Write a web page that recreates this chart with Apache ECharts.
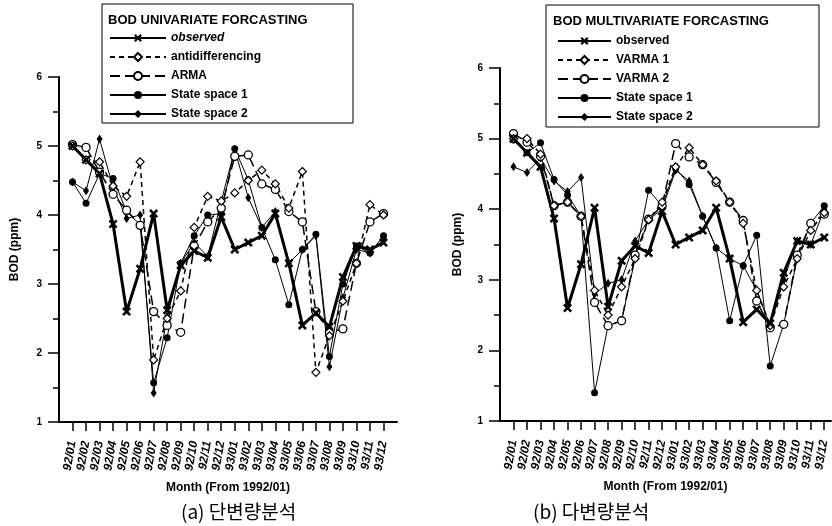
<!DOCTYPE html>
<html><head><meta charset="utf-8">
<script src="https://cdn.jsdelivr.net/npm/echarts@6/dist/echarts.min.js"></script>
<style>html,body{margin:0;padding:0;background:#fff}#c{width:832px;height:526px}</style>
</head><body><div id="c"></div>
<script>
const months = ['92/01','92/02','92/03','92/04','92/05','92/06','92/07','92/08','92/09','92/10','92/11','92/12',
                '93/01','93/02','93/03','93/04','93/05','93/06','93/07','93/08','93/09','93/10','93/11','93/12'];
const yTicks = [1, 2, 3, 4, 5, 6];

// observed BOD (same in both panels)
const observed = [5.0, 4.8, 4.6, 3.87, 2.6, 3.22, 4.02, 2.62, 3.27, 3.48, 3.38, 3.97, 3.5, 3.6, 3.7, 4.02, 3.3, 2.4, 2.58, 2.38, 3.1, 3.55, 3.5, 3.6];

// (a) univariate forecasts
const antidifferencing = [5.0, 4.8, 4.77, 4.42, 4.27, 4.77, 1.9, 2.5, 2.9, 3.82, 4.27, 4.2, 4.32, 4.5, 4.65, 4.45, 4.1, 4.63, 1.72, 2.25, 2.75, 3.3, 4.15, 4.0];
const arma = [5.02, 4.98, 4.62, 4.3, 4.07, 3.85, 2.6, 2.4, 2.3, 3.55, 3.9, 4.1, 4.85, 4.87, 4.45, 4.37, 4.05, 3.9, 2.6, 2.3, 2.35, 3.3, 3.9, 4.02];
const uniSS1 = [4.48, 4.17, 4.6, 4.53, 4.05, 3.86, 1.57, 2.22, 3.3, 3.7, 4.0, 4.02, 4.96, 4.51, 3.82, 3.35, 2.7, 3.5, 3.72, 1.95, 3.0, 3.55, 3.45, 3.7];
const uniSS2 = [4.48, 4.35, 5.1, 4.4, 3.95, 4.0, 1.42, 2.53, 3.3, 3.6, 3.4, 4.2, 4.95, 4.25, 3.82, 4.05, 3.3, 3.5, 3.7, 1.8, 2.8, 3.5, 3.45, 3.65];

// (b) multivariate forecasts
const varma1 = [5.0, 5.0, 4.78, 4.05, 4.1, 3.9, 2.85, 2.5, 2.9, 3.3, 3.85, 4.1, 4.6, 4.87, 4.63, 4.4, 4.1, 3.8, 2.85, 2.35, 2.9, 3.3, 3.7, 3.95];
const varma2 = [5.07, 4.95, 4.75, 4.05, 4.1, 3.9, 2.68, 2.35, 2.42, 3.35, 3.86, 4.05, 4.93, 4.74, 4.63, 4.38, 4.1, 3.84, 2.7, 2.32, 2.37, 3.35, 3.8, 3.93];
const multiSS1 = [4.98, 4.8, 4.94, 4.42, 4.2, 3.9, 1.4, 2.35, 2.42, 3.3, 4.27, 4.05, 4.58, 4.35, 3.9, 3.45, 2.42, 3.2, 3.63, 1.78, 2.37, 3.3, 3.8, 4.05];
const multiSS2 = [4.6, 4.52, 4.72, 4.4, 4.25, 4.45, 2.8, 2.95, 3.0, 3.55, 3.85, 4.0, 4.55, 4.4, 3.9, 3.45, 3.3, 3.2, 2.85, 2.35, 3.0, 3.55, 3.5, 4.0];

const FONT = '"Liberation Sans", Arial, sans-serif';
const idx = months.map((m, i) => i);
const pts = arr => arr.map((v, i) => [i, v]);

const X_SYM = 'path://M0,2 L2,0 L5,3 L8,0 L10,2 L7,5 L10,8 L8,10 L5,7 L2,10 L0,8 L3,5 Z';
const THIN_DIAMOND = 'path://M5,0 L7.5,5 L5,10 L2.5,5 Z';

function styles(kind) {
  switch (kind) {
    case 'obs': return {symbol: X_SYM, symbolSize: 9, lineStyle: {color: '#000', width: 3}, itemStyle: {color: '#000'}};
    case 'dash': return {symbol: 'diamond', symbolSize: 8, lineStyle: {color: '#000', width: 1.5, type: [5, 4]}, itemStyle: {color: '#fff', borderColor: '#000', borderWidth: 1.2}};
    case 'longdash': return {symbol: 'circle', symbolSize: 8, lineStyle: {color: '#000', width: 1.5, type: [10, 5]}, itemStyle: {color: '#fff', borderColor: '#000', borderWidth: 1.3}};
    case 'ss1': return {symbol: 'circle', symbolSize: 7, lineStyle: {color: '#000', width: 1}, itemStyle: {color: '#000'}};
    case 'ss2': return {symbol: THIN_DIAMOND, symbolSize: [6, 9], lineStyle: {color: '#000', width: 1}, itemStyle: {color: '#000'}};
  }
}
function mk(name, arr, kind, gi) {
  return Object.assign({type: 'line', name, data: pts(arr), xAxisIndex: gi, yAxisIndex: gi, showSymbol: true}, styles(kind));
}

function xAxis(gi, max) {
  return {
    type: 'value', gridIndex: gi, min: -1, max: max,
    splitLine: {show: false},
    axisLine: {show: true, onZero: false, lineStyle: {color: '#000', width: 2}},
    axisTick: {show: true, customValues: idx, length: 9, lineStyle: {color: '#000', width: 1.5}},
    axisLabel: {customValues: idx, formatter: v => months[v] || '', rotate: 80, margin: 19,
                fontFamily: FONT, fontWeight: 'bold', fontStyle: 'italic', fontSize: 12, color: '#000'},
    name: 'Month (From 1992/01)', nameLocation: 'middle', nameGap: 60,
    nameTextStyle: {fontFamily: FONT, fontWeight: 'bold', fontSize: 12, color: '#000'}
  };
}
function yAxis(gi, gap) {
  return {
    type: 'value', gridIndex: gi, min: yTicks[0], max: yTicks[yTicks.length - 1], interval: 1,
    splitLine: {show: false},
    axisLine: {show: true, onZero: false, lineStyle: {color: '#000', width: 2}},
    axisTick: {show: true, length: 11, lineStyle: {color: '#000', width: 1.5}},
    minorTick: {show: true, splitNumber: 2, length: 6, lineStyle: {color: '#000', width: 1.5}},
    axisLabel: {margin: 17, fontWeight: 'bold', fontSize: 10, color: '#000'},
    name: 'BOD (ppm)', nameLocation: 'middle', nameGap: gap,
    nameTextStyle: {fontWeight: 'bold', fontSize: 12, color: '#000'}
  };
}
function legend(left, top, width, names, italicFirst) {
  return {
    orient: 'vertical', left: left, top: top, itemWidth: width, itemHeight: 10, itemGap: 7,
    selectedMode: false,
    textStyle: {fontFamily: FONT, fontWeight: 'bold', fontSize: 12, color: '#000'},
    data: names.map((n, i) => (i === 0 && italicFirst) ? {name: n, textStyle: {fontStyle: 'italic'}} : {name: n})
  };
}

const chart = echarts.init(document.getElementById('c'));
chart.setOption({
  animation: false,
  grid: [
    {left: 59, top: 77, width: 338, height: 345},
    {left: 500, top: 68, width: 331, height: 353}
  ],
  xAxis: [xAxis(0, 24), xAxis(1, 23.5)],
  yAxis: [yAxis(0, 38), yAxis(1, 36)],
  legend: [
    legend(104, 27, 56, ['observed', 'antidifferencing', 'ARMA', 'State space 1', 'State space 2'], true),
    legend(552, 30, 53, ['observed', 'VARMA 1', 'VARMA 2', 'State space 1', 'State space 2'], false)
  ],
  graphic: [
    {type: 'rect', shape: {x: 102, y: 4, width: 251, height: 119}, style: {fill: null, stroke: '#000', lineWidth: 1}},
    {type: 'text', left: 108, top: 14, style: {text: 'BOD UNIVARIATE FORCASTING', font: 'bold 13px ' + FONT, fill: '#000'}},
    {type: 'rect', shape: {x: 546, y: 5, width: 273, height: 122}, style: {fill: null, stroke: '#000', lineWidth: 1}},
    {type: 'text', left: 553, top: 15, style: {text: 'BOD MULTIVARIATE FORCASTING', font: 'bold 13px ' + FONT, fill: '#000'}},
    {type: 'text', left: 181, top: 502, style: {text: '(a) 단변량분석', font: '19px "Noto Sans CJK KR", sans-serif', fill: '#000'}},
    {type: 'text', left: 533, top: 502, style: {text: '(b) 다변량분석', font: '19px "Noto Sans CJK KR", sans-serif', fill: '#000'}}
  ],
  series: [
    mk('State space 2', uniSS2, 'ss2', 0),
    mk('State space 1', uniSS1, 'ss1', 0),
    mk('ARMA', arma, 'longdash', 0),
    mk('antidifferencing', antidifferencing, 'dash', 0),
    mk('observed', observed, 'obs', 0),
    mk('State space 2', multiSS2, 'ss2', 1),
    mk('State space 1', multiSS1, 'ss1', 1),
    mk('VARMA 2', varma2, 'longdash', 1),
    mk('VARMA 1', varma1, 'dash', 1),
    mk('observed', observed, 'obs', 1)
  ]
});
</script></body></html>
